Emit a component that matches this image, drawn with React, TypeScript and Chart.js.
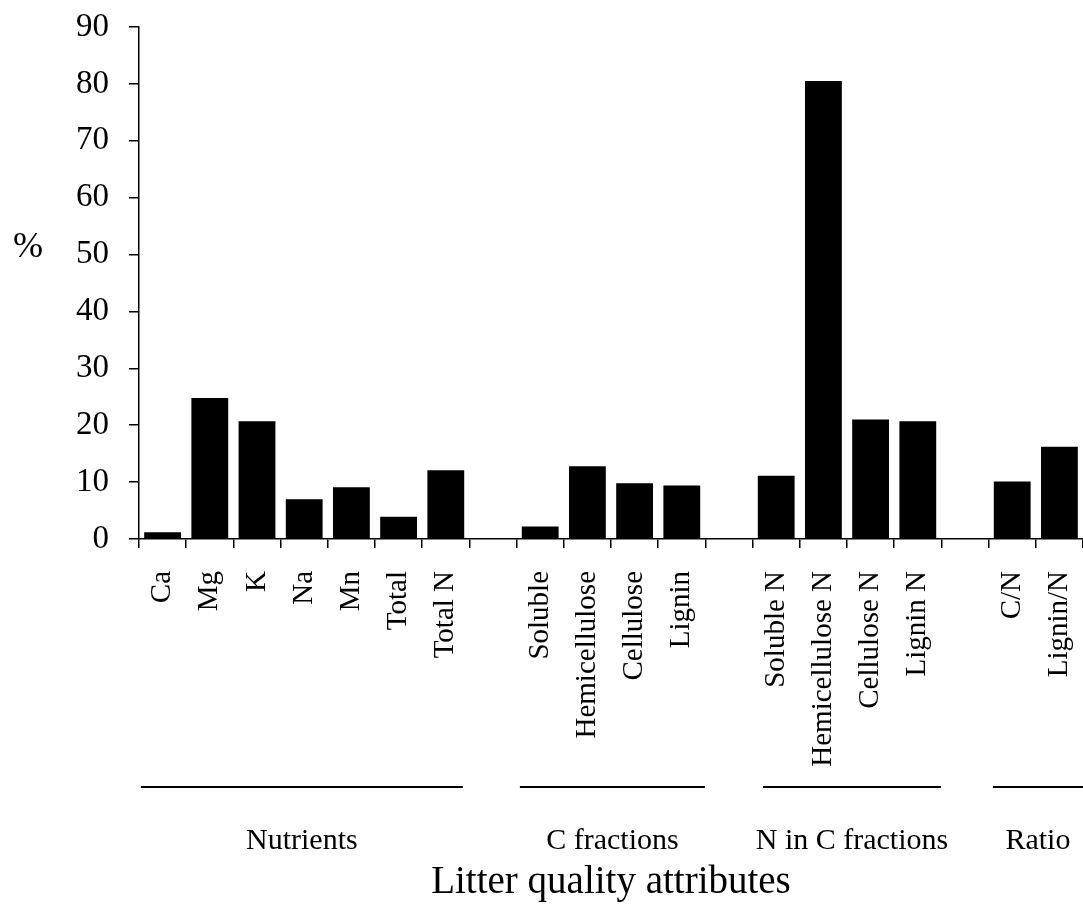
import React, { useEffect, useRef } from "react";
import { Chart, registerables } from "chart.js";

Chart.register(...registerables);

const categories = [
  "Ca", "Mg", "K", "Na", "Mn", "Total", "Total N", "",
  "Soluble", "Hemicellulose", "Cellulose", "Lignin", "",
  "Soluble N", "Hemicellulose N", "Cellulose N", "Lignin N", "",
  "C/N", "Lignin/N",
];
const values: (number | null)[] = [
  1.2, 24.8, 20.7, 7.0, 9.1, 3.9, 12.1, null,
  2.2, 12.8, 9.8, 9.4, null,
  11.1, 80.5, 21.0, 20.7, null,
  10.1, 16.2,
];
const groupNames = ["Nutrients", "C fractions", "N in C fractions", "Ratio"];
const groupStart = [-0.46, 7.57, 12.72, 17.59];
const groupEnd = [6.36, 11.49, 16.49, 19.5];
const yTicks = [0, 10, 20, 30, 40, 50, 60, 70, 80, 90];
const yTitle = "%";
const xTitle = "Litter quality attributes";

const FONT = "'Liberation Serif', serif";

const groupPlugin = {
  id: "groupPlugin",
  afterDraw(chart: any) {
    const ctx = chart.ctx;
    const xs = chart.scales.x;
    const area = chart.chartArea;
    ctx.save();
    ctx.strokeStyle = "#000";
    ctx.lineWidth = 2;
    ctx.fillStyle = "#000";
    ctx.textAlign = "center";
    ctx.textBaseline = "middle";
    ctx.font = `30px ${FONT}`;
    const lineY = area.bottom + 248;
    for (let i = 0; i < groupNames.length; i++) {
      const x0 = xs.getPixelForValue(groupStart[i]);
      const x1 = xs.getPixelForValue(groupEnd[i]);
      ctx.beginPath();
      ctx.moveTo(x0, lineY);
      ctx.lineTo(x1, lineY);
      ctx.stroke();
      ctx.fillText(groupNames[i], (x0 + x1) / 2, area.bottom + 302);
    }
    ctx.font = `39px ${FONT}`;
    ctx.fillText(xTitle, (area.left + area.right) / 2, area.bottom + 344);
    ctx.font = `36px ${FONT}`;
    ctx.fillText(yTitle, 28, chart.scales.y.getPixelForValue(51.2));
    ctx.restore();
  },
};

export default function App() {
  const ref = useRef<HTMLCanvasElement>(null);
  useEffect(() => {
    if (!ref.current) return;
    const chart = new Chart(ref.current, {
      type: "bar",
      data: {
        labels: categories,
        datasets: [
          {
            data: values as any,
            backgroundColor: "#000",
            borderWidth: 0,
            categoryPercentage: 1,
            barPercentage: 0.78,
          },
        ],
      },
      options: {
        animation: false,
        responsive: false,
        devicePixelRatio: 1,
        layout: { padding: { top: 27, right: 0, left: 0, bottom: 0 } },
        plugins: {
          legend: { display: false },
          tooltip: { enabled: false },
          title: { display: false },
        },
        scales: {
          x: {
            afterFit(scale: any) {
              scale.height = 371;
              scale.paddingLeft = 0;
              scale.paddingRight = 0;
            },
            grid: {
              display: true,
              drawOnChartArea: false,
              drawTicks: true,
              tickLength: 9,
              color: "#000",
              lineWidth: 1.5,
              offset: true,
            },
            border: { display: true, color: "#000", width: 1.5 },
            ticks: {
              autoSkip: false,
              maxRotation: 90,
              minRotation: 90,
              padding: 23,
              color: "#000",
              font: { family: FONT, size: 29 },
            },
          },
          y: {
            min: 0,
            max: 90,
            afterFit(scale: any) {
              scale.width = 139;
              scale.paddingTop = 0;
              scale.paddingBottom = 0;
            },
            afterBuildTicks(scale: any) {
              scale.ticks = yTicks.map((v) => ({ value: v }));
            },
            grid: {
              display: true,
              drawOnChartArea: false,
              drawTicks: true,
              tickLength: 10,
              color: "#000",
              lineWidth: 1.5,
            },
            border: { display: true, color: "#000", width: 1.5 },
            ticks: {
              padding: 20,
              color: "#000",
              font: { family: FONT, size: 33 },
            },
          },
        },
      },
      plugins: [groupPlugin],
    });
    return () => chart.destroy();
  }, []);
  return (
    <div style={{ position: "fixed", left: 0, top: 0, width: 1083, height: 910, background: "#fff" }}>
      <canvas ref={ref} width={1083} height={910} style={{ display: "block" }} />
    </div>
  );
}
